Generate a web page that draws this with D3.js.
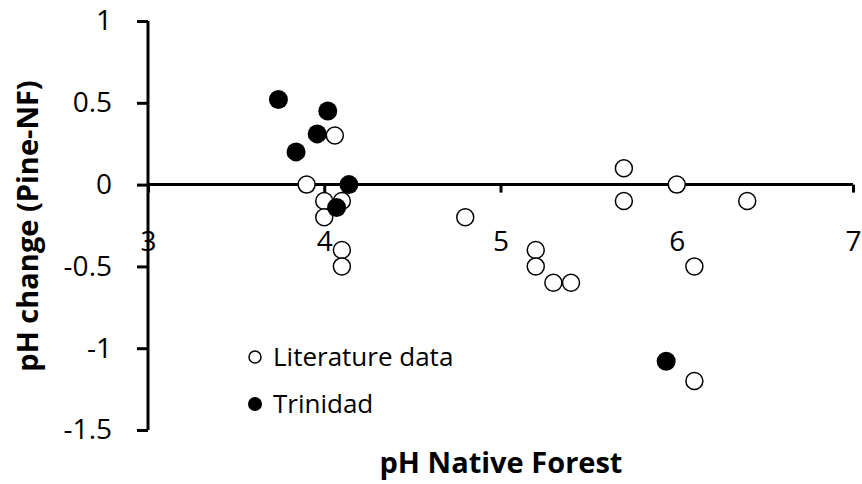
<!DOCTYPE html>
<html>
<head>
<meta charset="utf-8">
<script src="https://cdn.jsdelivr.net/npm/d3@7"></script>
<style>
  body { margin: 0; background: #fff; }
  text { font-family: "Open Sans", "Noto Sans", sans-serif; fill: #000; }
</style>
</head>
<body>
<script>
// data ===================================================
var litX = [4.06, 3.90, 4.00, 4.10, 4.00, 4.10, 4.10, 5.70, 6.00, 5.70, 6.40, 4.80, 5.20, 5.20, 5.30, 5.40, 6.10, 6.10];
var litY = [0.30, 0.00, -0.10, -0.10, -0.20, -0.40, -0.50, 0.10, 0.00, -0.10, -0.10, -0.20, -0.40, -0.50, -0.60, -0.60, -0.50, -1.20];

var triX = [3.74, 4.02, 3.96, 3.84, 4.14, 4.07, 5.94];
var triY = [0.52, 0.45, 0.31, 0.20, 0.00, -0.14, -1.08];

var xTicks = [3, 4, 5, 6, 7];
var yTicks = [1, 0.5, 0, -0.5, -1, -1.5];
var seriesNames = ["Literature data", "Trinidad"];
// =========================================================

var width = 862, height = 484;

var x = d3.scaleLinear().domain([3, 7]).range([148, 853]);
var y = d3.scaleLinear().domain([-1.5, 1]).range([430, 21]);

var svg = d3.select("body").append("svg")
    .attr("width", width)
    .attr("height", height);

// y axis
var yAxis = d3.axisLeft(y)
    .tickValues(yTicks)
    .tickSize(11)
    .tickFormat(d => String(d));  // plain hyphen like the original

var gy = svg.append("g")
    .attr("transform", "translate(" + x(3) + ",0)")
    .call(yAxis);
gy.select(".domain").remove();
gy.append("line")
    .attr("x1", 0).attr("x2", 0)
    .attr("y1", y(1)).attr("y2", y(-1.5))
    .attr("stroke", "#000").attr("stroke-width", 3);
gy.selectAll(".tick line").attr("stroke", "#000").attr("stroke-width", 3);
gy.selectAll(".tick text")
    .attr("x", -36)
    .style("font-size", "28px")
    .style("font-family", "'Open Sans', sans-serif");

// x axis sits on y = 0
var xAxis = d3.axisBottom(x)
    .tickValues(xTicks)
    .tickSize(8)
    .tickFormat(d3.format("d"));

var gx = svg.append("g")
    .attr("transform", "translate(0," + y(0) + ")")
    .call(xAxis);
gx.select(".domain").remove();
gx.append("line")
    .attr("x1", x(3)).attr("x2", x(7))
    .attr("y1", 0).attr("y2", 0)
    .attr("stroke", "#000").attr("stroke-width", 3);
gx.selectAll(".tick line").attr("stroke", "#000").attr("stroke-width", 3);
gx.selectAll(".tick text")
    .attr("y", 57)
    .attr("dy", "0.35em")
    .style("font-size", "28px")
    .style("font-family", "'Open Sans', sans-serif");

// points
var litData = litX.map((d, i) => ({x: d, y: litY[i]}));
var triData = triX.map((d, i) => ({x: d, y: triY[i]}));

svg.append("g").selectAll("circle")
    .data(litData)
  .enter().append("circle")
    .attr("cx", d => x(d.x))
    .attr("cy", d => y(d.y))
    .attr("r", 8.5)
    .attr("fill", "#fff")
    .attr("stroke", "#000")
    .attr("stroke-width", 1.5);

svg.append("g").selectAll("circle")
    .data(triData)
  .enter().append("circle")
    .attr("cx", d => x(d.x))
    .attr("cy", d => y(d.y))
    .attr("r", 9.5)
    .attr("fill", "#000");

// legend
var legend = svg.append("g").attr("transform", "translate(255,357)");
seriesNames.forEach((name, i) => {
  var row = legend.append("g").attr("transform", "translate(0," + (i * 47) + ")");
  row.append("circle")
    .attr("r", i === 0 ? 6 : 7)
    .attr("fill", i === 0 ? "#fff" : "#000")
    .attr("stroke", "#000")
    .attr("stroke-width", i === 0 ? 1.5 : 0);
  row.append("text")
    .attr("x", 18)
    .attr("dy", "0.35em")
    .style("font-size", "26px")
    .text(name);
});

// axis titles
svg.append("text")
    .attr("x", 501)
    .attr("y", 463)
    .attr("dy", "0.35em")
    .attr("text-anchor", "middle")
    .style("font-size", "29px")
    .style("font-weight", "bold")
    .text("pH Native Forest");

svg.append("text")
    .attr("transform", "translate(28,226) rotate(-90)")
    .attr("dy", "0.35em")
    .attr("text-anchor", "middle")
    .style("font-size", "29px")
    .style("font-weight", "bold")
    .text("pH change (Pine-NF)");
</script>
</body>
</html>
